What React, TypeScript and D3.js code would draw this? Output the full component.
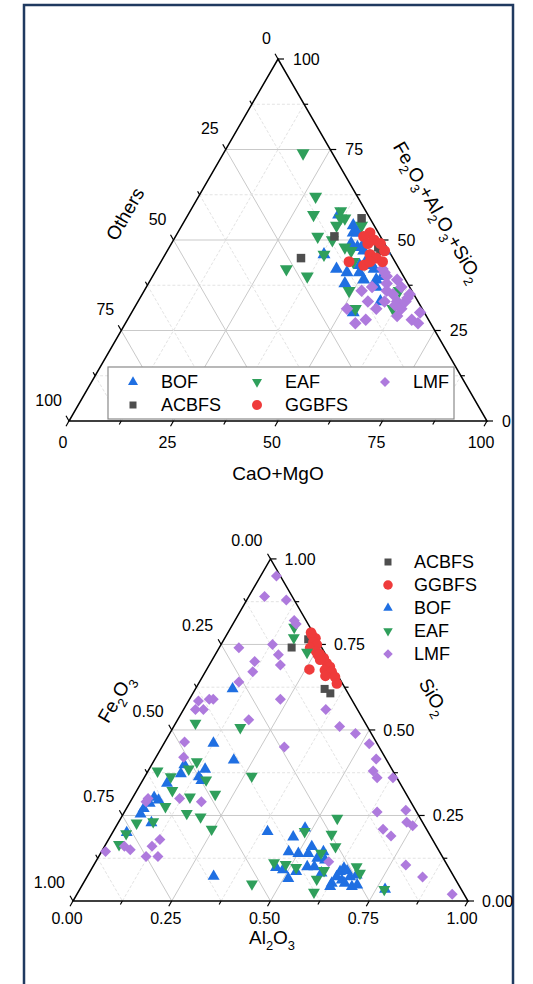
import React from 'react';
import * as d3 from 'd3';

type Tri = [number, number, number];

// Upper diagram: [CaO+MgO, Fe2O3+Al2O3+SiO2, Others] (wt.%)
const topBOF: Tri[] = [
  [36, 57, 7], [41, 54, 5], [42, 52, 6], [43, 52, 5], [38, 46, 16], [45, 48, 7], [47, 47, 6], [52, 47, 1],
  [48, 43, 9], [51, 43, 6], [43, 42, 15], [49, 41, 10], [52, 42, 6], [55, 40, 5], [47, 38, 15], [51, 39, 10],
  [54, 39, 7], [55, 37, 8], [58, 33, 9], [53, 30, 17], [46, 41, 13], [43, 49, 8], [46, 49, 5], [49, 45, 6],
];
const topEAF: Tri[] = [
  [19, 74, 7], [28, 62, 10], [30, 57, 13], [36, 58, 6], [38, 56, 6], [37, 54, 9], [34, 51, 15], [38, 50, 12],
  [42, 48, 10], [44, 47, 9], [31, 42, 27], [37, 40, 23], [46, 44, 10], [49, 36, 15], [61, 36, 3], [53, 31, 16],
  [62, 31, 7], [43, 54, 3], [37, 56, 7], [38, 46, 16],
];
const topLMF: Tri[] = [
  [54, 42, 4], [56, 40, 4], [59, 39, 2], [57, 38, 5], [61, 37, 2], [52, 36, 12], [54, 37, 9], [58, 36, 6],
  [60, 35, 5], [64, 35, 1], [55, 33, 12], [62, 33, 5], [64, 33, 3], [59, 33, 8], [51, 31, 18], [64, 31, 5],
  [62, 32, 6], [69, 30, 1], [68, 28, 4], [55, 27, 18], [57, 28, 15], [64, 29, 7], [58, 31, 11], [70, 27, 3],
  [55, 41, 4], [64, 34, 2],
];
const topACBFS: Tri[] = [[42, 56, 2], [38, 51, 11], [33, 45, 22], [50, 48, 2], [51, 47, 2]];
const topGGBFS: Tri[] = [
  [46, 52, 2], [45, 51, 4], [48, 50, 2], [50, 49, 1], [47, 49, 4], [52, 47, 1], [49, 46, 5], [51, 45, 4],
  [53, 44, 3], [45, 44, 11], [49, 43, 8], [50, 44, 6],
];

// Lower diagram: [Al2O3, SiO2, Fe2O3] (normalised fractions, %)
const botACBFS: Tri[] = [[18.3, 74.1, 7.6], [21.3, 76.5, 2.2], [32.7, 62, 5.3], [34.8, 60.7, 4.5]];
const botGGBFS: Tri[] = [
  [21.6, 77.8, 0.6], [23, 76.8, 0.2], [23, 75.7, 1.3], [24.3, 74.9, 0.8], [23, 74, 3], [25, 73, 2],
  [26.4, 72.2, 1.4], [26, 67.7, 6.3], [28, 71, 1], [29.5, 69.5, 1], [30.8, 68.5, 0.7], [30, 67.5, 2.5],
  [32, 67, 1], [31, 65.8, 3.2], [33.6, 65.5, 0.9], [35, 63.6, 1.4], [27.3, 70.5, 2.2], [26, 72, 2], [21, 78.5, 0.5],
];
const botBOF: Tri[] = [
  [9.4, 62, 28.6], [12.5, 46.1, 41.4], [20.1, 41.2, 38.7], [8.3, 39.8, 51.9], [14.2, 38.5, 47.3], [8.7, 37.2, 54.1],
  [13.7, 36.3, 50], [14.9, 35.2, 49.9], [6.6, 34.4, 59], [5.4, 30.3, 64.3], [6.9, 29.5, 63.6], [5.1, 28.6, 66.3],
  [4.4, 27, 68.6], [4.4, 25.4, 70.2], [8.4, 22.9, 68.7], [3.6, 20, 76.4], [39.1, 20.3, 40.6], [32, 7.2, 60.8],
  [46.4, 18.7, 34.9], [47.4, 14.4, 38.2], [50.1, 13.9, 36], [46.5, 9.8, 43.7], [48.1, 21.3, 30.6], [52.5, 15.9, 31.6],
  [52.6, 13.9, 33.5], [54.3, 10, 35.7], [55.6, 12.5, 31.9], [56.2, 14.4, 29.4], [56.1, 10, 33.9], [57.8, 12, 30.2],
  [58.8, 8.2, 33], [51.2, 6.6, 42.2], [52.2, 8.6, 39.2], [62.9, 5.2, 31.9], [63.2, 7.1, 29.7], [63.3, 8.6, 28.1],
  [63.8, 9.6, 26.6], [65, 8.8, 26.2], [66.6, 7.1, 26.3], [68, 7.6, 24.4], [65, 6.1, 28.9], [68.5, 4.2, 27.3],
  [69.6, 4.7, 25.7], [77.3, 3.4, 19.3], [63, 4.2, 32.8], [48.6, 9.1, 42.3], [66.2, 5.2, 28.6],
];
const botEAF: Tri[] = [
  [16, 80, 4], [17.4, 77, 5.6], [22.9, 72.7, 4.4], [5, 52, 43], [17, 50.7, 32.3], [11, 40.7, 48.3],
  [10, 38.6, 51.4], [2.4, 38, 59.6], [6.6, 36.3, 57.1], [16, 35.4, 48.6], [27, 36.5, 36.5], [9, 32.3, 58.7],
  [14.4, 30.4, 55.2], [20.4, 31.2, 48.4], [9.6, 27.6, 62.8], [16, 25.6, 58.4], [20, 24.6, 55.4], [4.7, 22.8, 72.5],
  [8.7, 23.2, 68.1], [24.6, 21, 54.4], [3.6, 19.7, 76.7], [3.4, 16.5, 80.1], [45.3, 11.2, 43.5], [42.8, 5, 52.2],
  [54.8, 24.2, 21], [48.5, 20.3, 31.2], [55.7, 19.5, 24.8], [58.5, 15.9, 25.6], [55.8, 14, 30.2], [48.5, 10.7, 40.8],
  [51.6, 9.8, 38.6], [59.1, 8.9, 32], [66.8, 10, 23.2], [68.6, 8.1, 23.3], [58.5, 6.4, 35.1], [59.7, 2.6, 37.7],
  [77.1, 3.4, 19.5],
];
const botLMF: Tri[] = [
  [4, 95, 1], [4, 89, 7], [10, 88, 2], [15, 82, 3], [16, 81, 3], [5, 74, 21], [13, 75, 12], [16, 72, 12],
  [18, 69, 13], [11, 70, 19], [12, 67, 21], [10, 64, 26], [5, 59, 36], [6, 59, 35], [2.5, 58.5, 39], [5, 56, 39],
  [3, 56, 41], [23, 59, 18], [18, 53, 29], [36, 56, 8], [5, 46.5, 48.5], [7, 42, 51], [4, 29, 67], [4, 30, 66],
  [12, 30, 58], [18, 29, 53], [13, 18, 69], [12, 16, 72], [5, 16, 79], [7, 15, 78], [1, 14.5, 84.5], [12, 13, 75],
  [15, 13, 72], [42, 51, 7], [47, 49, 4], [31, 45, 24], [52, 46, 2], [56, 41.5, 2.5], [57, 38, 5], [59, 36, 5],
  [63, 36, 1], [64, 26, 10], [71, 26.5, 2.5], [73, 23, 4], [75, 22, 3], [68, 21, 11], [71, 19, 10], [79, 10.5, 10.5],
  [85, 7, 8], [95, 2, 3], [59, 11.5, 29.5],
];

const topTicks = [0, 25, 50, 75, 100];
const botTicks = ['0.00', '0.25', '0.50', '0.75', '1.00'];

type Kind = 'up' | 'down' | 'square' | 'circle' | 'diamond';
const STYLE: Record<string, { color: string; kind: Kind }> = {
  BOF: { color: '#1f6fe2', kind: 'up' },
  EAF: { color: '#2f9f5b', kind: 'down' },
  LMF: { color: '#ae7add', kind: 'diamond' },
  ACBFS: { color: '#4e4e4e', kind: 'square' },
  GGBFS: { color: '#ef3b3b', kind: 'circle' },
};

const FONT = "'Liberation Sans', Arial, Helvetica, sans-serif";

function markerPath(kind: Kind, w: number): { d: string; rot: number } {
  const gen = d3.symbol();
  if (kind === 'up' || kind === 'down') {
    const area = (Math.sqrt(3) / 4) * w * w;
    return { d: gen.type(d3.symbolTriangle).size(area)() as string, rot: kind === 'down' ? 180 : 0 };
  }
  if (kind === 'square') return { d: gen.type(d3.symbolSquare).size(w * w)() as string, rot: 0 };
  if (kind === 'diamond') {
    const s = w / Math.SQRT2;
    return { d: gen.type(d3.symbolSquare).size(s * s)() as string, rot: 45 };
  }
  return { d: gen.type(d3.symbolCircle).size((Math.PI * w * w) / 4)() as string, rot: 0 };
}

function Marker({ kind, color, x, y, w }: { kind: Kind; color: string; x: number; y: number; w: number }) {
  const m = markerPath(kind, w);
  return <path d={m.d} fill={color} transform={`translate(${x},${y}) rotate(${m.rot})`} />;
}

function Chem({ text, size }: { text: string; size: number }) {
  const parts: { t: string; sub: boolean }[] = [];
  for (const ch of text) {
    const sub = /[0-9]/.test(ch);
    const last = parts[parts.length - 1];
    if (last && last.sub === sub) last.t += ch;
    else parts.push({ t: ch, sub });
  }
  let down = false;
  return (
    <>
      {parts.map((p, i) => {
        let dy = 0;
        if (p.sub && !down) { dy = size * 0.32; down = true; }
        else if (!p.sub && down) { dy = -size * 0.32; down = false; }
        return (
          <tspan key={i} dy={dy} fontSize={p.sub ? size * 0.68 : size}>{p.t}</tspan>
        );
      })}
    </>
  );
}

interface Series { name: string; data: Tri[]; w: number }

interface ChartCfg {
  x0: number; x1: number; yBase: number;
  labels: string[];
  bottomOff: [number, number];
  leftOff: [number, number];
  rightOff: number;
  series: Series[];
}

function TernaryChart({ cfg }: { cfg: ChartCfg }) {
  const h = ((cfg.x1 - cfg.x0) * Math.sqrt(3)) / 2;
  const xs = d3.scaleLinear().domain([0, 1]).range([cfg.x0, cfg.x1]);
  const ys = d3.scaleLinear().domain([0, 1]).range([cfg.yBase, cfg.yBase - h]);
  const proj = (a: number, b: number, c: number): [number, number] => {
    const s = a + b + c;
    const an = a / s, bn = b / s;
    return [xs(an + bn / 2), ys(bn)];
  };
  const steps = d3.range(0, 9).map((i) => i / 8);
  const isMajor = (v: number) => Math.abs(v * 4 - Math.round(v * 4)) < 1e-9;
  const inner = steps.filter((v) => v > 0 && v < 1);

  const lines: JSX.Element[] = [];
  inner.forEach((v, i) => {
    const major = isMajor(v);
    const st = major
      ? { stroke: '#c9c9c9', strokeWidth: 1 }
      : { stroke: '#e3e3e3', strokeWidth: 1, strokeDasharray: '3,2' };
    const segs: [[number, number], [number, number]][] = [
      [proj(0, v, 1 - v), proj(1 - v, v, 0)],
      [proj(v, 0, 1 - v), proj(v, 1 - v, 0)],
      [proj(0, 1 - v, v), proj(1 - v, 0, v)],
    ];
    segs.forEach((s, j) =>
      lines.push(<line key={`g${i}-${j}`} x1={s[0][0]} y1={s[0][1]} x2={s[1][0]} y2={s[1][1]} {...st} />)
    );
  });

  const ticks: JSX.Element[] = [];
  const dirs: { p: (v: number) => [number, number]; d: [number, number] }[] = [
    { p: (v) => proj(v, 0, 1 - v), d: [-0.5, Math.sqrt(3) / 2] },
    { p: (v) => proj(1 - v, v, 0), d: [1, 0] },
    { p: (v) => proj(0, 1 - v, v), d: [-0.5, -Math.sqrt(3) / 2] },
  ];
  steps.forEach((v, i) => {
    const len = isMajor(v) ? 6 : 4;
    dirs.forEach((dd, j) => {
      const [x, y] = dd.p(v);
      ticks.push(
        <line key={`t${i}-${j}`} x1={x} y1={y} x2={x + dd.d[0] * len} y2={y + dd.d[1] * len} stroke="#000" strokeWidth={1.2} />
      );
    });
  });

  const labVals = [0, 0.25, 0.5, 0.75, 1];
  const tickLabels: JSX.Element[] = [];
  labVals.forEach((v, i) => {
    const txt = cfg.labels[i];
    const [bx, by] = proj(v, 0, 1 - v);
    tickLabels.push(
      <text key={`lb${i}`} x={bx + cfg.bottomOff[0]} y={by + cfg.bottomOff[1]} dy="0.35em" textAnchor="middle">{txt}</text>
    );
    const [rx, ry] = proj(1 - v, v, 0);
    tickLabels.push(
      <text key={`lr${i}`} x={rx + cfg.rightOff} y={ry} dy="0.35em" textAnchor="start">{txt}</text>
    );
    const [lx, ly] = proj(0, 1 - v, v);
    tickLabels.push(
      <text key={`ll${i}`} x={lx + cfg.leftOff[0]} y={ly + cfg.leftOff[1]} dy="0.35em" textAnchor="end">{txt}</text>
    );
  });

  const A = proj(0, 1, 0), BL = proj(0, 0, 1), BR = proj(1, 0, 0);

  return (
    <g>
      {lines}
      <path d={`M${BL[0]},${BL[1]}L${BR[0]},${BR[1]}L${A[0]},${A[1]}Z`} fill="none" stroke="#000" strokeWidth={1.5} />
      {ticks}
      <g fontSize={16} fill="#000">{tickLabels}</g>
      {cfg.series.map((s) => {
        const st = STYLE[s.name];
        return (
          <g key={s.name}>
            {s.data.map((d, k) => {
              const [x, y] = proj(d[0], d[1], d[2]);
              return <Marker key={k} kind={st.kind} color={st.color} x={x} y={y} w={s.w} />;
            })}
          </g>
        );
      })}
    </g>
  );
}

const topCfg: ChartCfg = {
  x0: 69, x1: 487, yBase: 421,
  labels: topTicks.map(String),
  bottomOff: [-6, 21],
  leftOff: [-7, -21],
  rightOff: 15,
  series: [
    { name: 'BOF', data: topBOF, w: 13 },
    { name: 'EAF', data: topEAF, w: 13 },
    { name: 'LMF', data: topLMF, w: 12.5 },
    { name: 'ACBFS', data: topACBFS, w: 8.5 },
    { name: 'GGBFS', data: topGGBFS, w: 11 },
  ],
};

const botCfg: ChartCfg = {
  x0: 73, x1: 468, yBase: 901,
  labels: botTicks,
  bottomOff: [-6, 17],
  leftOff: [-8, -19],
  rightOff: 14,
  series: [
    { name: 'ACBFS', data: botACBFS, w: 8 },
    { name: 'GGBFS', data: botGGBFS, w: 10.5 },
    { name: 'BOF', data: botBOF, w: 12 },
    { name: 'EAF', data: botEAF, w: 12 },
    { name: 'LMF', data: botLMF, w: 11 },
  ],
};

const topLegend = [
  ['BOF', 'EAF', 'LMF'],
  ['ACBFS', 'GGBFS'],
];
const botLegend = ['ACBFS', 'GGBFS', 'BOF', 'EAF', 'LMF'];

export default function App() {
  const legendCols = [133, 257, 385];
  const legendRows = [382, 405];
  return (
    <svg
      width={533}
      height={984}
      viewBox="0 0 533 984"
      style={{ position: 'absolute', left: 0, top: 0, background: '#fff' }}
      fontFamily={FONT}
    >
      <rect x={0} y={0} width={533} height={984} fill="#fff" />
      <rect x={24} y={5} width={489} height={990} fill="none" stroke="#203a60" strokeWidth={2.5} />

      <TernaryChart cfg={topCfg} />
      <text x={278} y={473} dy="0.35em" textAnchor="middle" fontSize={19}>CaO+MgO</text>
      <text transform="translate(125,214) rotate(-60)" dy="0.35em" textAnchor="middle" fontSize={19}>Others</text>
      <text transform="translate(432,215) rotate(60)" dy="0.35em" textAnchor="middle" fontSize={19}>
        <Chem text="Fe2O3+Al2O3+SiO2" size={19} />
      </text>

      <g>
        <rect x={108} y={367} width={346} height={52} fill="#fff" stroke="#8a8a8a" strokeWidth={1.2} />
        {topLegend.map((row, r) =>
          row.map((name, c) => {
            const st = STYLE[name];
            return (
              <g key={name}>
                <Marker kind={st.kind} color={st.color} x={legendCols[c]} y={legendRows[r]} w={st.kind === 'square' ? 7 : 10} />
                <text x={legendCols[c] + 28} y={legendRows[r]} dy="0.35em" fontSize={18}>{name}</text>
              </g>
            );
          })
        )}
      </g>

      <TernaryChart cfg={botCfg} />
      <text x={272} y={944} dy="0.35em" textAnchor="middle" fontSize={19}>
        <Chem text="Al2O3" size={19} />
      </text>
      <text transform="translate(121,702) rotate(-60)" dy="0.35em" textAnchor="middle" fontSize={19}>
        <Chem text="Fe2O3" size={19} />
      </text>
      <text transform="translate(428,700) rotate(60)" dy="0.35em" textAnchor="middle" fontSize={19}>
        <Chem text="SiO2" size={19} />
      </text>

      <g>
        {botLegend.map((name, i) => {
          const st = STYLE[name];
          const y = 562 + i * 23;
          return (
            <g key={name}>
              <Marker kind={st.kind} color={st.color} x={388} y={y} w={st.kind === 'square' ? 7 : 9.5} />
              <text x={414} y={y} dy="0.35em" fontSize={18}>{name}</text>
            </g>
          );
        })}
      </g>
    </svg>
  );
}
